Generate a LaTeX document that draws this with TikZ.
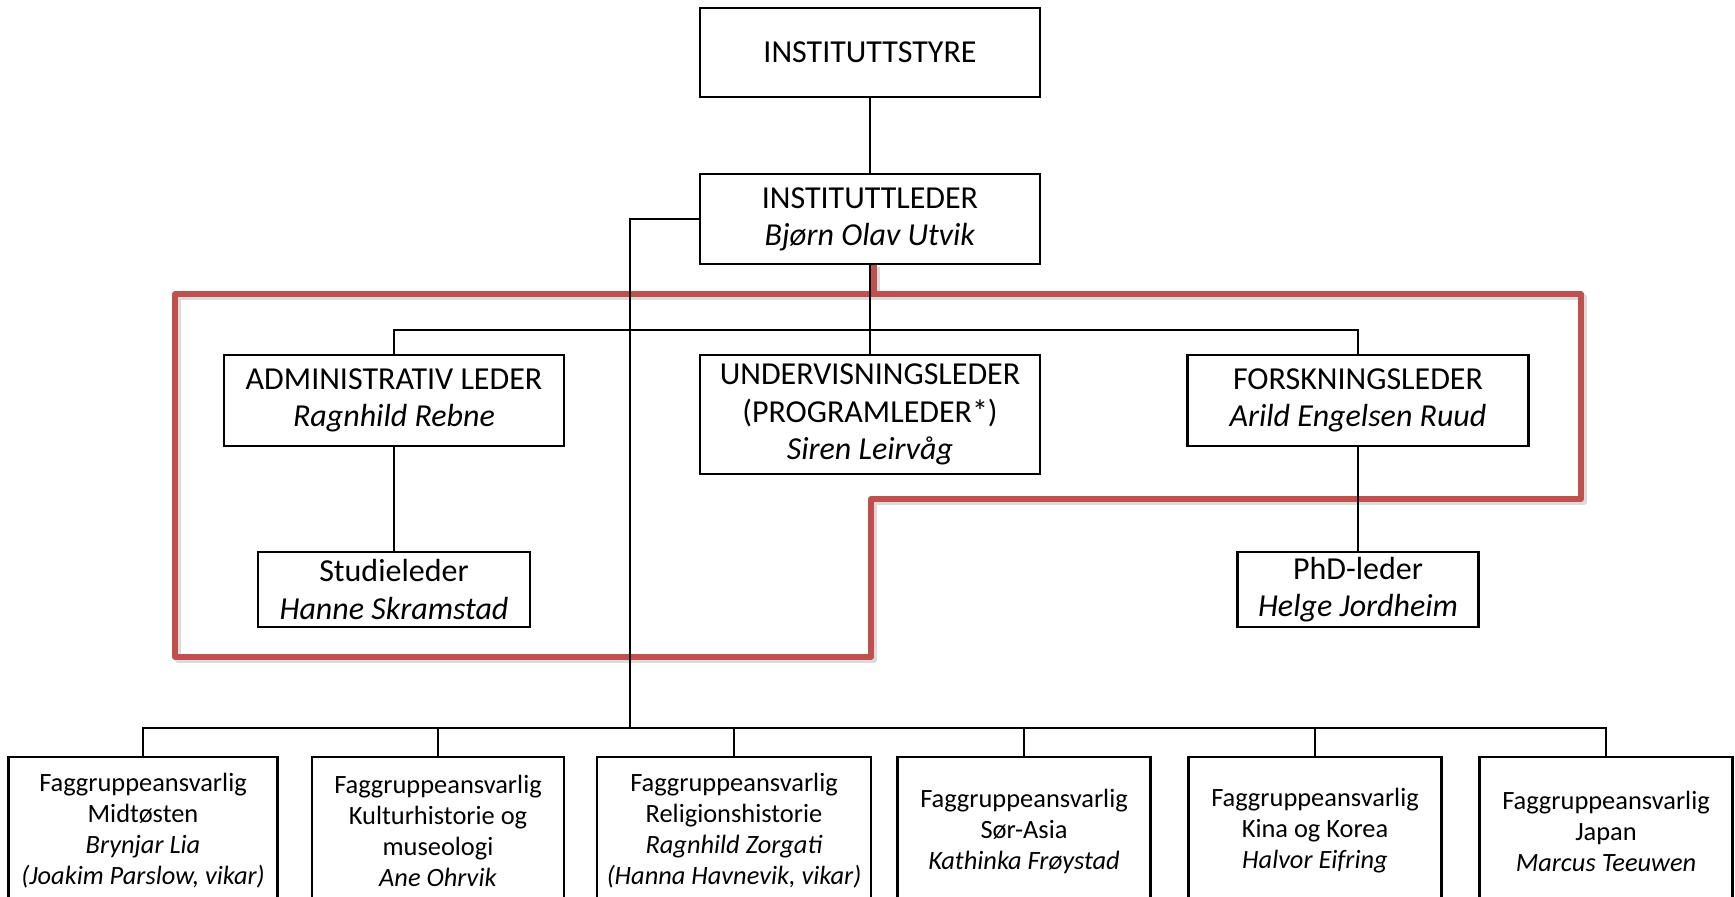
\documentclass[tikz,border=0pt]{standalone}
\usepackage{fontspec}
\setmainfont{Carlito}
\usepackage{xcolor}
\definecolor{framered}{HTML}{C0504D}

\begin{document}
\begin{tikzpicture}[x=0.5pt, y=-0.5pt,
  box/.style={draw, line width=1.1pt, inner sep=0pt, align=center, font=\fontsize{16}{18.6}\selectfont},
  fag/.style={draw, line width=1.1pt, inner sep=0pt, align=center, minimum height=74pt, font=\fontsize{13.2}{15.5}\selectfont},
  link/.style={line width=1pt}]
\clip (0,0) rectangle (1735,896);
\fill[white] (0,0) rectangle (1735,896);
% red frame round the leaders
\draw[line width=3pt, black!14, line join=round] (877,267) -- (877,297) -- (1584,297) -- (1584,502) -- (874,502) -- (874,660) -- (178,660) -- (178,297) -- (877,297);
\draw[line width=2.6pt, framered, line join=round] (874,264) -- (874,294) -- (1581,294) -- (1581,499) -- (871,499) -- (871,657) -- (175,657) -- (175,294) -- (874,294);
\node[box, minimum width=170pt, minimum height=44.5pt] (styre) at (870,52.5) {INSTITUTTSTYRE};
\node[box, minimum width=170pt, minimum height=45pt] (leder) at (870,219) {INSTITUTTLEDER\\\textit{Bjørn Olav Utvik}};
\node[box, minimum width=170pt, minimum height=45.5pt] (admin) at (394,400.5) {ADMINISTRATIV LEDER\\\textit{Ragnhild Rebne}};
\node[box, minimum width=170pt, minimum height=59.5pt] (under) at (870,414.5) {UNDERVISNINGSLEDER\\(PROGRAMLEDER*)\\\textit{Siren Leirvåg}};
\node[box, minimum width=170.5pt, minimum height=45.5pt] (forsk) at (1358,400.5) {FORSKNINGSLEDER\\\textit{Arild Engelsen Ruud}};
\node[box, minimum width=136pt, minimum height=37.5pt] (studie) at (394,589.5) {Studieleder\\\textit{Hanne Skramstad}};
\node[box, minimum width=120.5pt, minimum height=37.5pt] (phd) at (1358,589.5) {PhD-leder\\\textit{Helge Jordheim}};
% faggrupper
\node[fag, minimum width=134.5pt] (fag1) at (143,831) {Faggruppeansvarlig\\Midtøsten\\\textit{Brynjar Lia}\\\textit{(Joakim Parslow, vikar)}};
\node[fag, minimum width=126pt] (fag2) at (438,831) {Faggruppeansvarlig\\Kulturhistorie og\\museologi\\\textit{Ane Ohrvik}};
\node[fag, minimum width=137pt] (fag3) at (734,831) {Faggruppeansvarlig\\Religionshistorie\\\textit{Ragnhild Zorgati}\\\textit{(Hanna Havnevik, vikar)}};
\node[fag, minimum width=126.5pt] (fag4) at (1024,831) {Faggruppeansvarlig\\Sør-Asia\\\textit{Kathinka Frøystad}};
\node[fag, minimum width=126.5pt] (fag5) at (1315,831) {Faggruppeansvarlig\\Kina og Korea\\\textit{Halvor Eifring}};
\node[fag, minimum width=126.5pt] (fag6) at (1606,831) {Faggruppeansvarlig\\Japan\\\textit{Marcus Teeuwen}};
\coordinate (midbus) at (870,330);
\coordinate (trunk) at (630,728);
\draw[link] (styre) -- (leder);
\draw[link] (leder) -- (under);
\draw[link] (admin.north) |- (midbus) -| (forsk.north);
\draw[link] (admin) -- (studie);
\draw[link] (forsk) -- (phd);
\draw[link] (leder.west) -| (trunk);
\draw[link] (fag1.north) |- (trunk) -| (fag6.north);
\draw[link] (fag2.north) -- (fag2.north |- trunk);
\draw[link] (fag3.north) -- (fag3.north |- trunk);
\draw[link] (fag4.north) -- (fag4.north |- trunk);
\draw[link] (fag5.north) -- (fag5.north |- trunk);
\end{tikzpicture}
\end{document}
